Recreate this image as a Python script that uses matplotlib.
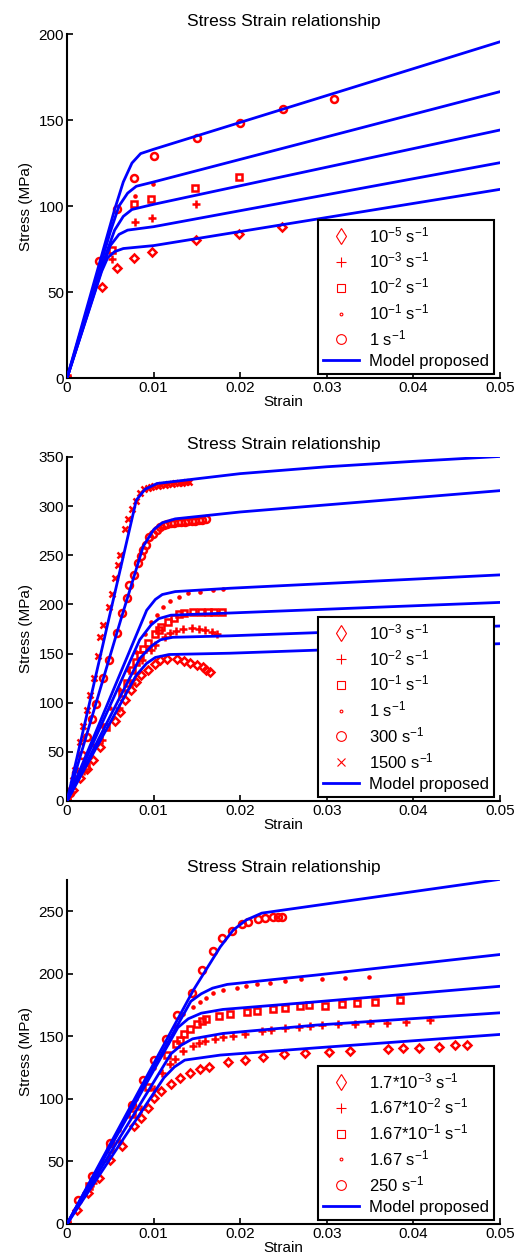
import matplotlib
matplotlib.use("Agg")
import matplotlib.pyplot as plt
from matplotlib.lines import Line2D

plt.rcParams['font.family'] = ['Liberation Sans', 'DejaVu Sans']
plt.rcParams['mathtext.fontset'] = 'custom'
plt.rcParams['mathtext.rm'] = 'Liberation Sans'
plt.rcParams['mathtext.default'] = 'regular'

# ---------------- panel 1 ----------------
p1_d_x = [0, 0.0040, 0.0058, 0.0077, 0.0098, 0.0149, 0.0199, 0.0248]
p1_d_y = [0, 53, 64, 70, 73.5, 80, 84, 88]
p1_p_x = [0, 0.0052, 0.0078, 0.0098, 0.0149]
p1_p_y = [0, 69, 90.5, 92.8, 101]
p1_s_x = [0, 0.0052, 0.0077, 0.0097, 0.0148, 0.0199]
p1_s_y = [0, 74.5, 101, 104, 110.6, 117]
p1_dot_x = [0, 0.0078, 0.0099]
p1_dot_y = [0, 106, 112.6]
p1_o_x = [0, 0.0037, 0.0058, 0.0077, 0.0100, 0.0150, 0.0200, 0.0250, 0.0308]
p1_o_y = [0, 68, 98.5, 116.5, 129, 139.5, 148, 156.5, 162.5]

p1_model = [
    ([0, 0.0055, 0.0065, 0.0075, 0.0085, 0.010, 0.050], [0, 98, 114, 125, 130.5, 133, 195.5]),
    ([0, 0.0050, 0.0060, 0.0070, 0.0080, 0.010, 0.050], [0, 85, 100, 107.5, 111.5, 114, 166.5]),
    ([0, 0.0045, 0.0055, 0.0065, 0.0075, 0.010, 0.050], [0, 72, 86, 94, 98, 101, 144.2]),
    ([0, 0.0042, 0.0050, 0.0060, 0.0070, 0.010, 0.050], [0, 66, 77, 83.5, 86, 88, 125.2]),
    ([0, 0.0040, 0.0047, 0.0055, 0.0065, 0.010, 0.050], [0, 62, 70, 73.5, 75.3, 77, 109.7]),
]
p1_labels = [r'10$^{-5}$ s$^{-1}$', r'10$^{-3}$ s$^{-1}$', r'10$^{-2}$ s$^{-1}$',
             r'10$^{-1}$ s$^{-1}$', r'1 s$^{-1}$']

# ---------------- panel 2 ----------------
p2_d_x = [0, 0.0007, 0.0015, 0.0023, 0.0030, 0.0038, 0.0055, 0.0061, 0.0067, 0.0074, 0.0080, 0.0086,
          0.0093, 0.0102, 0.0107, 0.0115, 0.0127, 0.0135, 0.0142, 0.0150, 0.0157, 0.0161, 0.0165]
p2_d_y = [0, 11, 23, 33, 42, 55, 81, 91, 103, 113, 121, 128,
          133, 139, 143.5, 144.2, 144.2, 142.7, 140.7, 138.4, 136, 133.3, 131]
p2_p_x = [0, 0.002, 0.004, 0.006, 0.0075, 0.0087, 0.0097, 0.0102, 0.0113, 0.0119, 0.0126, 0.0134,
          0.0144, 0.0152, 0.0159, 0.0167, 0.0173]
p2_p_y = [0, 30, 62, 95, 120, 143, 153.6, 158.7, 167.2, 170.6, 173, 174.7,
          175.7, 174.7, 174, 172.3, 170]
p2_s_x = [0, 0.0022, 0.0045, 0.0063, 0.0069, 0.0075, 0.0080, 0.0084, 0.0088, 0.0094, 0.0102, 0.0106,
          0.0109, 0.0117, 0.0123, 0.0129, 0.0135, 0.0146, 0.0155, 0.0163, 0.0170, 0.0179]
p2_s_y = [0, 36, 75, 109.6, 119.8, 133.3, 141.7, 148.5, 154.3, 161, 170, 174,
          177.3, 182.4, 185.9, 190.3, 191, 192, 192.6, 192.6, 192.6, 192.6]
p2_dot_x = [0, 0.002, 0.003, 0.004, 0.005, 0.006, 0.007, 0.008, 0.009, 0.0097, 0.0104, 0.0111,
            0.0119, 0.0129, 0.0140, 0.0154, 0.0169, 0.0180]
p2_dot_y = [0, 38, 57, 76, 95, 114, 133, 152, 170, 182, 189, 197.7,
            203.5, 207.9, 211.3, 213, 214.7, 215.4]
p2_o_x = [0, 0.00035, 0.00104, 0.0017, 0.00227, 0.00285, 0.00335, 0.0042, 0.0049, 0.00574, 0.0063,
          0.0069, 0.0072, 0.0077, 0.0082, 0.0085, 0.0088, 0.0091, 0.0095, 0.0099, 0.0104, 0.0107,
          0.0112, 0.0116, 0.0120, 0.0124, 0.0128, 0.0132, 0.0136, 0.0140, 0.0144, 0.0148, 0.0152,
          0.0156, 0.0161]
p2_o_y = [0, 8, 28, 47, 65, 83, 99, 125, 143, 171, 191,
          206, 220, 230, 242, 249, 255, 260, 269, 272, 276, 279,
          281, 282, 283, 283, 283.5, 284, 284, 284.5, 285, 285, 285.5,
          286, 286.5]
p2_x_x = [0, 0.0005, 0.0007, 0.0009, 0.0015, 0.0019, 0.0023, 0.0027, 0.0031, 0.0036, 0.0038, 0.0042,
          0.0048, 0.0052, 0.0055, 0.0059, 0.0061, 0.0067, 0.0071, 0.0075, 0.0080, 0.0084, 0.0089,
          0.0093, 0.0097, 0.0101, 0.0105, 0.0109, 0.0113, 0.0117, 0.0121, 0.0125, 0.0129, 0.0133,
          0.0137, 0.0141]
p2_x_y = [0, 11, 21, 31, 60, 76, 93, 108, 125, 147, 167, 179,
          197, 211, 227, 240, 250, 277, 287, 297, 305, 313, 317,
          318, 319, 320, 320.5, 321, 321.5, 322, 322.5, 323, 323, 323.5,
          324, 324]

p2_model = [
    ([0, 0.0048, 0.0080, 0.0090, 0.0104, 0.020, 0.030, 0.040, 0.050], [0, 184, 306, 317, 323, 333, 340, 345.5, 350.5]),
    ([0, 0.0063, 0.0088, 0.0100, 0.0110, 0.0125, 0.020, 0.050], [0, 187, 259, 276, 283, 287, 294, 315.7]),
    ([0, 0.0092, 0.0102, 0.0110, 0.0125, 0.0188, 0.050], [0, 194, 205, 210, 213, 216.4, 230]),
    ([0, 0.0084, 0.0097, 0.0106, 0.0120, 0.0188, 0.050], [0, 164, 179, 185.5, 189, 191.2, 202]),
    ([0, 0.0084, 0.0098, 0.0108, 0.0122, 0.0188, 0.050], [0, 145, 158, 164, 166.5, 168, 178]),
    ([0, 0.0080, 0.0092, 0.0102, 0.0118, 0.0188, 0.050], [0, 128, 140, 146, 149, 150.3, 160]),
]
p2_labels = [r'10$^{-3}$ s$^{-1}$', r'10$^{-2}$ s$^{-1}$', r'10$^{-1}$ s$^{-1}$',
             r'1 s$^{-1}$', r'300 s$^{-1}$', r'1500 s$^{-1}$']

# ---------------- panel 3 ----------------
p3_d_x = [0, 0.0011, 0.0024, 0.0037, 0.0050, 0.0063, 0.0077, 0.0086, 0.0093, 0.0101, 0.0108, 0.0120,
          0.0131, 0.0142, 0.0154, 0.0164, 0.0186, 0.0206, 0.0226, 0.0251, 0.0275, 0.0303, 0.0327,
          0.0371, 0.0388, 0.0406, 0.0429, 0.0448, 0.0462]
p3_d_y = [0, 11, 25, 37, 51, 62, 78, 85, 93, 101, 106, 112,
          116.5, 120.5, 123.8, 125.2, 129.3, 131.2, 133.1, 135.6, 136.3, 137.6, 138.4,
          139.5, 140.8, 140.8, 141.6, 143, 143]
p3_p_x = [0, 0.003, 0.006, 0.0085, 0.0100, 0.0110, 0.0119, 0.0125, 0.0134, 0.0145, 0.0153, 0.0159,
          0.0171, 0.0180, 0.0192, 0.0205, 0.0225, 0.0235, 0.0252, 0.0268, 0.0281, 0.0294, 0.0313,
          0.0333, 0.0350, 0.0370, 0.0391, 0.0419]
p3_p_y = [0, 33, 66, 92, 108, 120.4, 127.8, 131.5, 138.4, 142.5, 144.8, 146.4,
          147.5, 149.1, 150.5, 152, 154.3, 155, 156.3, 157.3, 158.6, 158.9, 159.7,
          159.7, 160.3, 160.8, 161.6, 162.9]
p3_s_x = [0, 0.0025, 0.005, 0.0075, 0.0094, 0.0115, 0.0126, 0.0130, 0.0135, 0.0142, 0.0150, 0.0156,
          0.0161, 0.0175, 0.0188, 0.0208, 0.0219, 0.0238, 0.0252, 0.0269, 0.0280, 0.0298, 0.0318,
          0.0335, 0.0356, 0.0385]
p3_s_y = [0, 30, 60, 88, 109.7, 135, 143.5, 147, 151.8, 155.8, 159.5, 162.1,
          163.5, 166.1, 167.7, 169.2, 170, 171.7, 172.8, 174.4, 175.2, 174.4, 175.7,
          176.3, 177.6, 178.9]
p3_dot_x = [0, 0.002, 0.004, 0.006, 0.008, 0.010, 0.0115, 0.0125, 0.0134, 0.0145, 0.0154, 0.0161,
            0.0169, 0.0180, 0.0196, 0.0207, 0.0219, 0.0234, 0.0252, 0.0270, 0.0294, 0.0321, 0.0349]
p3_dot_y = [0, 25, 50, 75, 100, 125, 145, 158, 168, 173.6, 177.6, 180.8,
            184.3, 186.9, 188.8, 190, 191.5, 193, 194.3, 195.5, 196.2, 197, 197.8]
p3_o_x = [0, 0.0013, 0.00285, 0.00496, 0.00747, 0.0088, 0.0101, 0.0114, 0.0127, 0.0144, 0.0156,
          0.0169, 0.0179, 0.0190, 0.0202, 0.0209, 0.0221, 0.0229, 0.0238, 0.0244, 0.0248]
p3_o_y = [0, 19, 38, 64.5, 95, 115, 131, 148, 167, 185, 203.4,
          218.3, 228.2, 234, 239.4, 241.5, 243.4, 244.2, 245.4, 245.4, 245.4]

p3_model = [
    ([0, 0.0146, 0.0177, 0.0192, 0.0207, 0.0225, 0.050], [0, 187, 221.5, 235, 243, 248.5, 275.5]),
    ([0, 0.0143, 0.0155, 0.0168, 0.0185, 0.0288, 0.050], [0, 178, 184, 188.5, 191.5, 199, 215.4]),
    ([0, 0.0128, 0.0140, 0.0155, 0.0180, 0.0288, 0.050], [0, 157, 164, 168.5, 171.5, 177.6, 190]),
    ([0, 0.0120, 0.0132, 0.0145, 0.0180, 0.0288, 0.050], [0, 136, 143, 148, 152.3, 159, 168.8]),
    ([0, 0.0112, 0.0124, 0.0136, 0.0177, 0.0288, 0.050], [0, 117, 125.5, 131, 135, 140.8, 151.5]),
]
p3_labels = [r'1.7*10$^{-3}$ s$^{-1}$', r'1.67*10$^{-2}$ s$^{-1}$', r'1.67*10$^{-1}$ s$^{-1}$',
             r'1.67 s$^{-1}$', r'250 s$^{-1}$']

# marker styles: (marker in plot, size in plot, marker in legend, size in legend)
styles = {'d': ('D', 4.2, 'd', 8), '+': ('+', 5.5, '+', 7), 's': ('s', 4.2, 's', 6),
          '.': ('.', 3, '.', 4), 'o': ('o', 5, 'o', 7), 'x': ('x', 4, 'x', 6)}

fig = plt.figure(figsize=(5.17, 12.56), dpi=100)


def panel(rect, series, model, labels, ymax, yticks):
    ax = fig.add_axes(rect)
    handles = []
    for (mk, xs, ys), lab in zip(series, labels):
        m, ms, lm, lms = styles[mk]
        ax.plot(xs, ys, ls='none', marker=m, ms=ms, mew=1.8, mfc='none', color='red', zorder=2)
        handles.append(Line2D([], [], ls='none', marker=lm, ms=lms, mew=0.8, mfc='none',
                              color='red', label=lab))
    for xs, ys in model:
        ax.plot(xs, ys, color='blue', lw=2, zorder=3)
    handles.append(Line2D([], [], color='blue', lw=2, label='Model proposed'))
    ax.set_xlim(0, 0.05)
    ax.set_ylim(0, ymax)
    ax.set_xticks([0, 0.01, 0.02, 0.03, 0.04, 0.05])
    ax.set_xticklabels(['0', '0.01', '0.02', '0.03', '0.04', '0.05'])
    ax.set_yticks(yticks)
    for s in ['top', 'right']:
        ax.spines[s].set_visible(False)
    for s in ['left', 'bottom']:
        ax.spines[s].set_linewidth(1.5)
    ax.tick_params(direction='in', length=4, width=1.2, labelsize=11, pad=2)
    ax.set_title('Stress Strain relationship', fontsize=12.5, pad=6)
    ax.set_xlabel('Strain', fontsize=11, labelpad=0)
    ax.set_ylabel('Stress (MPa)', fontsize=11, labelpad=4)
    leg = ax.legend(handles=handles, loc='lower right', bbox_to_anchor=(0.987, 0.012),
                    fontsize=12, fancybox=False, framealpha=1, edgecolor='black',
                    handlelength=2.2, labelspacing=0.35, borderpad=0.3, handletextpad=0.6,
                    borderaxespad=0)
    leg.get_frame().set_linewidth(1.5)
    return ax


panel([0.1296, 0.699, 0.8375, 0.2739],
      [('d', p1_d_x, p1_d_y), ('+', p1_p_x, p1_p_y), ('s', p1_s_x, p1_s_y),
       ('.', p1_dot_x, p1_dot_y), ('o', p1_o_x, p1_o_y)],
      p1_model, p1_labels, 200, [0, 50, 100, 150, 200])

panel([0.1296, 0.3623, 0.8375, 0.2739],
      [('d', p2_d_x, p2_d_y), ('+', p2_p_x, p2_p_y), ('s', p2_s_x, p2_s_y),
       ('.', p2_dot_x, p2_dot_y), ('o', p2_o_x, p2_o_y), ('x', p2_x_x, p2_x_y)],
      p2_model, p2_labels, 350, [0, 50, 100, 150, 200, 250, 300, 350])

panel([0.1296, 0.0255, 0.8375, 0.2739],
      [('d', p3_d_x, p3_d_y), ('+', p3_p_x, p3_p_y), ('s', p3_s_x, p3_s_y),
       ('.', p3_dot_x, p3_dot_y), ('o', p3_o_x, p3_o_y)],
      p3_model, p3_labels, 275, [0, 50, 100, 150, 200, 250])

fig.savefig('out.png', dpi=100)
